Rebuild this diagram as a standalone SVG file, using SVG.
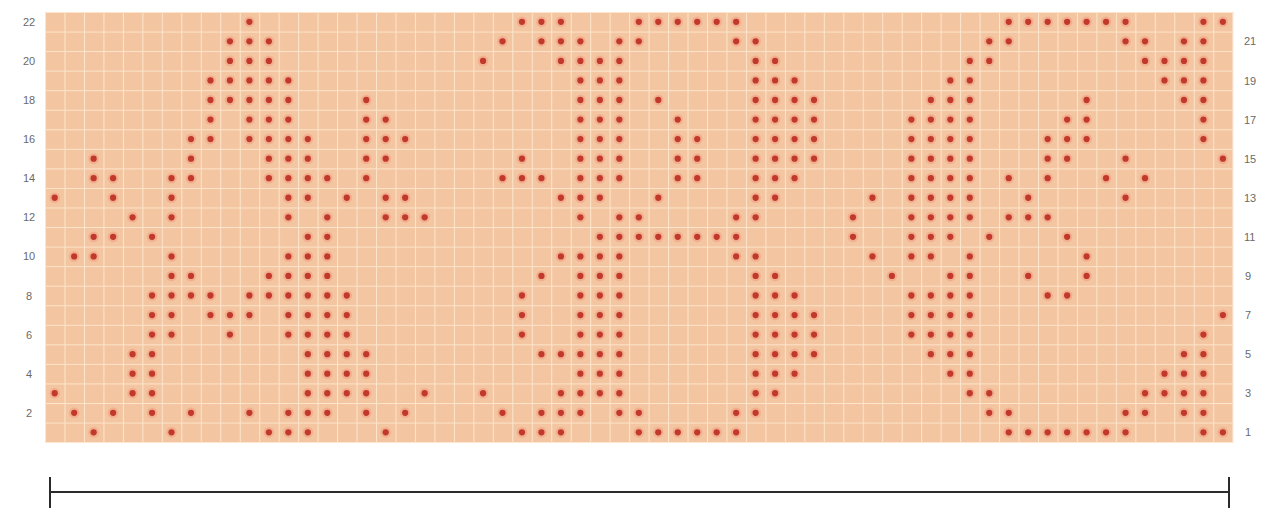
<svg xmlns="http://www.w3.org/2000/svg" xmlns:xlink="http://www.w3.org/1999/xlink" width="1266" height="511" viewBox="0 0 1266 511">
<style>
.lbl{font-family:"Liberation Sans",Arial,sans-serif;font-size:11px;fill:#6a6a6a}
.l{text-anchor:middle}
.r{text-anchor:start}
.bar{stroke:#2b2b2b;stroke-width:2;fill:none}
</style>
<defs>
<pattern id="grid" x="45" y="12" width="19.47" height="19.55" patternUnits="userSpaceOnUse">
<path d="M0 0.5H19.47M0.5 0V19.55" stroke="#fde5cc" stroke-width="1.1" fill="none"/>
</pattern>
<g id="d"><circle r="0.27" fill="#f09a82" opacity="0.55"/><circle r="0.16" fill="#c0392a"/></g>
</defs>
<rect width="1266" height="511" fill="#ffffff"/>
<g id="chart">
<rect x="45" y="12" width="1187.7" height="430.1" fill="#f3c5a1"/>
<rect x="45" y="12" width="1188.7" height="431.1" fill="url(#grid)"/>
</g>
<g id="dots" transform="translate(54.7 21.8) scale(19.47 19.55)">
<g id="row22"><use href="#d" x="10" y="0"/><use href="#d" x="24" y="0"/><use href="#d" x="25" y="0"/><use href="#d" x="26" y="0"/><use href="#d" x="30" y="0"/><use href="#d" x="31" y="0"/><use href="#d" x="32" y="0"/><use href="#d" x="33" y="0"/><use href="#d" x="34" y="0"/><use href="#d" x="35" y="0"/><use href="#d" x="49" y="0"/><use href="#d" x="50" y="0"/><use href="#d" x="51" y="0"/><use href="#d" x="52" y="0"/><use href="#d" x="53" y="0"/><use href="#d" x="54" y="0"/><use href="#d" x="55" y="0"/><use href="#d" x="59" y="0"/><use href="#d" x="60" y="0"/></g>
<g id="row21"><use href="#d" x="9" y="1"/><use href="#d" x="10" y="1"/><use href="#d" x="11" y="1"/><use href="#d" x="23" y="1"/><use href="#d" x="25" y="1"/><use href="#d" x="26" y="1"/><use href="#d" x="27" y="1"/><use href="#d" x="29" y="1"/><use href="#d" x="30" y="1"/><use href="#d" x="35" y="1"/><use href="#d" x="36" y="1"/><use href="#d" x="48" y="1"/><use href="#d" x="49" y="1"/><use href="#d" x="55" y="1"/><use href="#d" x="56" y="1"/><use href="#d" x="58" y="1"/><use href="#d" x="59" y="1"/></g>
<g id="row20"><use href="#d" x="9" y="2"/><use href="#d" x="10" y="2"/><use href="#d" x="11" y="2"/><use href="#d" x="22" y="2"/><use href="#d" x="26" y="2"/><use href="#d" x="27" y="2"/><use href="#d" x="28" y="2"/><use href="#d" x="29" y="2"/><use href="#d" x="36" y="2"/><use href="#d" x="37" y="2"/><use href="#d" x="47" y="2"/><use href="#d" x="48" y="2"/><use href="#d" x="56" y="2"/><use href="#d" x="57" y="2"/><use href="#d" x="58" y="2"/><use href="#d" x="59" y="2"/></g>
<g id="row19"><use href="#d" x="8" y="3"/><use href="#d" x="9" y="3"/><use href="#d" x="10" y="3"/><use href="#d" x="11" y="3"/><use href="#d" x="12" y="3"/><use href="#d" x="27" y="3"/><use href="#d" x="28" y="3"/><use href="#d" x="29" y="3"/><use href="#d" x="36" y="3"/><use href="#d" x="37" y="3"/><use href="#d" x="38" y="3"/><use href="#d" x="46" y="3"/><use href="#d" x="47" y="3"/><use href="#d" x="57" y="3"/><use href="#d" x="58" y="3"/><use href="#d" x="59" y="3"/></g>
<g id="row18"><use href="#d" x="8" y="4"/><use href="#d" x="9" y="4"/><use href="#d" x="10" y="4"/><use href="#d" x="11" y="4"/><use href="#d" x="12" y="4"/><use href="#d" x="16" y="4"/><use href="#d" x="27" y="4"/><use href="#d" x="28" y="4"/><use href="#d" x="29" y="4"/><use href="#d" x="31" y="4"/><use href="#d" x="36" y="4"/><use href="#d" x="37" y="4"/><use href="#d" x="38" y="4"/><use href="#d" x="39" y="4"/><use href="#d" x="45" y="4"/><use href="#d" x="46" y="4"/><use href="#d" x="47" y="4"/><use href="#d" x="53" y="4"/><use href="#d" x="58" y="4"/><use href="#d" x="59" y="4"/></g>
<g id="row17"><use href="#d" x="8" y="5"/><use href="#d" x="10" y="5"/><use href="#d" x="11" y="5"/><use href="#d" x="12" y="5"/><use href="#d" x="16" y="5"/><use href="#d" x="17" y="5"/><use href="#d" x="27" y="5"/><use href="#d" x="28" y="5"/><use href="#d" x="29" y="5"/><use href="#d" x="32" y="5"/><use href="#d" x="36" y="5"/><use href="#d" x="37" y="5"/><use href="#d" x="38" y="5"/><use href="#d" x="39" y="5"/><use href="#d" x="44" y="5"/><use href="#d" x="45" y="5"/><use href="#d" x="46" y="5"/><use href="#d" x="47" y="5"/><use href="#d" x="52" y="5"/><use href="#d" x="53" y="5"/><use href="#d" x="59" y="5"/></g>
<g id="row16"><use href="#d" x="7" y="6"/><use href="#d" x="8" y="6"/><use href="#d" x="10" y="6"/><use href="#d" x="11" y="6"/><use href="#d" x="12" y="6"/><use href="#d" x="13" y="6"/><use href="#d" x="16" y="6"/><use href="#d" x="17" y="6"/><use href="#d" x="18" y="6"/><use href="#d" x="27" y="6"/><use href="#d" x="28" y="6"/><use href="#d" x="29" y="6"/><use href="#d" x="32" y="6"/><use href="#d" x="33" y="6"/><use href="#d" x="36" y="6"/><use href="#d" x="37" y="6"/><use href="#d" x="38" y="6"/><use href="#d" x="39" y="6"/><use href="#d" x="44" y="6"/><use href="#d" x="45" y="6"/><use href="#d" x="46" y="6"/><use href="#d" x="47" y="6"/><use href="#d" x="51" y="6"/><use href="#d" x="52" y="6"/><use href="#d" x="53" y="6"/><use href="#d" x="59" y="6"/></g>
<g id="row15"><use href="#d" x="2" y="7"/><use href="#d" x="7" y="7"/><use href="#d" x="11" y="7"/><use href="#d" x="12" y="7"/><use href="#d" x="13" y="7"/><use href="#d" x="16" y="7"/><use href="#d" x="17" y="7"/><use href="#d" x="24" y="7"/><use href="#d" x="27" y="7"/><use href="#d" x="28" y="7"/><use href="#d" x="29" y="7"/><use href="#d" x="32" y="7"/><use href="#d" x="33" y="7"/><use href="#d" x="36" y="7"/><use href="#d" x="37" y="7"/><use href="#d" x="38" y="7"/><use href="#d" x="39" y="7"/><use href="#d" x="44" y="7"/><use href="#d" x="45" y="7"/><use href="#d" x="46" y="7"/><use href="#d" x="47" y="7"/><use href="#d" x="51" y="7"/><use href="#d" x="52" y="7"/><use href="#d" x="55" y="7"/><use href="#d" x="60" y="7"/></g>
<g id="row14"><use href="#d" x="2" y="8"/><use href="#d" x="3" y="8"/><use href="#d" x="6" y="8"/><use href="#d" x="7" y="8"/><use href="#d" x="11" y="8"/><use href="#d" x="12" y="8"/><use href="#d" x="13" y="8"/><use href="#d" x="14" y="8"/><use href="#d" x="16" y="8"/><use href="#d" x="23" y="8"/><use href="#d" x="24" y="8"/><use href="#d" x="25" y="8"/><use href="#d" x="27" y="8"/><use href="#d" x="28" y="8"/><use href="#d" x="29" y="8"/><use href="#d" x="32" y="8"/><use href="#d" x="33" y="8"/><use href="#d" x="36" y="8"/><use href="#d" x="37" y="8"/><use href="#d" x="38" y="8"/><use href="#d" x="44" y="8"/><use href="#d" x="45" y="8"/><use href="#d" x="46" y="8"/><use href="#d" x="47" y="8"/><use href="#d" x="49" y="8"/><use href="#d" x="51" y="8"/><use href="#d" x="54" y="8"/><use href="#d" x="56" y="8"/></g>
<g id="row13"><use href="#d" x="0" y="9"/><use href="#d" x="3" y="9"/><use href="#d" x="6" y="9"/><use href="#d" x="12" y="9"/><use href="#d" x="13" y="9"/><use href="#d" x="15" y="9"/><use href="#d" x="17" y="9"/><use href="#d" x="18" y="9"/><use href="#d" x="26" y="9"/><use href="#d" x="27" y="9"/><use href="#d" x="28" y="9"/><use href="#d" x="31" y="9"/><use href="#d" x="36" y="9"/><use href="#d" x="37" y="9"/><use href="#d" x="42" y="9"/><use href="#d" x="44" y="9"/><use href="#d" x="45" y="9"/><use href="#d" x="46" y="9"/><use href="#d" x="47" y="9"/><use href="#d" x="50" y="9"/><use href="#d" x="55" y="9"/></g>
<g id="row12"><use href="#d" x="4" y="10"/><use href="#d" x="6" y="10"/><use href="#d" x="12" y="10"/><use href="#d" x="14" y="10"/><use href="#d" x="17" y="10"/><use href="#d" x="18" y="10"/><use href="#d" x="19" y="10"/><use href="#d" x="27" y="10"/><use href="#d" x="29" y="10"/><use href="#d" x="30" y="10"/><use href="#d" x="35" y="10"/><use href="#d" x="36" y="10"/><use href="#d" x="41" y="10"/><use href="#d" x="44" y="10"/><use href="#d" x="45" y="10"/><use href="#d" x="46" y="10"/><use href="#d" x="47" y="10"/><use href="#d" x="49" y="10"/><use href="#d" x="50" y="10"/><use href="#d" x="51" y="10"/></g>
<g id="row11"><use href="#d" x="2" y="11"/><use href="#d" x="3" y="11"/><use href="#d" x="5" y="11"/><use href="#d" x="13" y="11"/><use href="#d" x="14" y="11"/><use href="#d" x="28" y="11"/><use href="#d" x="29" y="11"/><use href="#d" x="30" y="11"/><use href="#d" x="31" y="11"/><use href="#d" x="32" y="11"/><use href="#d" x="33" y="11"/><use href="#d" x="34" y="11"/><use href="#d" x="35" y="11"/><use href="#d" x="41" y="11"/><use href="#d" x="44" y="11"/><use href="#d" x="45" y="11"/><use href="#d" x="46" y="11"/><use href="#d" x="48" y="11"/><use href="#d" x="52" y="11"/></g>
<g id="row10"><use href="#d" x="1" y="12"/><use href="#d" x="2" y="12"/><use href="#d" x="6" y="12"/><use href="#d" x="12" y="12"/><use href="#d" x="13" y="12"/><use href="#d" x="14" y="12"/><use href="#d" x="26" y="12"/><use href="#d" x="27" y="12"/><use href="#d" x="28" y="12"/><use href="#d" x="29" y="12"/><use href="#d" x="35" y="12"/><use href="#d" x="36" y="12"/><use href="#d" x="42" y="12"/><use href="#d" x="44" y="12"/><use href="#d" x="45" y="12"/><use href="#d" x="47" y="12"/><use href="#d" x="53" y="12"/></g>
<g id="row9"><use href="#d" x="6" y="13"/><use href="#d" x="7" y="13"/><use href="#d" x="11" y="13"/><use href="#d" x="12" y="13"/><use href="#d" x="13" y="13"/><use href="#d" x="14" y="13"/><use href="#d" x="25" y="13"/><use href="#d" x="27" y="13"/><use href="#d" x="28" y="13"/><use href="#d" x="29" y="13"/><use href="#d" x="36" y="13"/><use href="#d" x="37" y="13"/><use href="#d" x="43" y="13"/><use href="#d" x="46" y="13"/><use href="#d" x="47" y="13"/><use href="#d" x="50" y="13"/><use href="#d" x="53" y="13"/></g>
<g id="row8"><use href="#d" x="5" y="14"/><use href="#d" x="6" y="14"/><use href="#d" x="7" y="14"/><use href="#d" x="8" y="14"/><use href="#d" x="10" y="14"/><use href="#d" x="11" y="14"/><use href="#d" x="12" y="14"/><use href="#d" x="13" y="14"/><use href="#d" x="14" y="14"/><use href="#d" x="15" y="14"/><use href="#d" x="24" y="14"/><use href="#d" x="27" y="14"/><use href="#d" x="28" y="14"/><use href="#d" x="29" y="14"/><use href="#d" x="36" y="14"/><use href="#d" x="37" y="14"/><use href="#d" x="38" y="14"/><use href="#d" x="44" y="14"/><use href="#d" x="45" y="14"/><use href="#d" x="46" y="14"/><use href="#d" x="47" y="14"/><use href="#d" x="51" y="14"/><use href="#d" x="52" y="14"/></g>
<g id="row7"><use href="#d" x="5" y="15"/><use href="#d" x="6" y="15"/><use href="#d" x="8" y="15"/><use href="#d" x="9" y="15"/><use href="#d" x="10" y="15"/><use href="#d" x="12" y="15"/><use href="#d" x="13" y="15"/><use href="#d" x="14" y="15"/><use href="#d" x="15" y="15"/><use href="#d" x="24" y="15"/><use href="#d" x="27" y="15"/><use href="#d" x="28" y="15"/><use href="#d" x="29" y="15"/><use href="#d" x="36" y="15"/><use href="#d" x="37" y="15"/><use href="#d" x="38" y="15"/><use href="#d" x="39" y="15"/><use href="#d" x="44" y="15"/><use href="#d" x="45" y="15"/><use href="#d" x="46" y="15"/><use href="#d" x="47" y="15"/><use href="#d" x="60" y="15"/></g>
<g id="row6"><use href="#d" x="5" y="16"/><use href="#d" x="6" y="16"/><use href="#d" x="9" y="16"/><use href="#d" x="12" y="16"/><use href="#d" x="13" y="16"/><use href="#d" x="14" y="16"/><use href="#d" x="15" y="16"/><use href="#d" x="24" y="16"/><use href="#d" x="27" y="16"/><use href="#d" x="28" y="16"/><use href="#d" x="29" y="16"/><use href="#d" x="36" y="16"/><use href="#d" x="37" y="16"/><use href="#d" x="38" y="16"/><use href="#d" x="39" y="16"/><use href="#d" x="44" y="16"/><use href="#d" x="45" y="16"/><use href="#d" x="46" y="16"/><use href="#d" x="47" y="16"/><use href="#d" x="59" y="16"/></g>
<g id="row5"><use href="#d" x="4" y="17"/><use href="#d" x="5" y="17"/><use href="#d" x="13" y="17"/><use href="#d" x="14" y="17"/><use href="#d" x="15" y="17"/><use href="#d" x="16" y="17"/><use href="#d" x="25" y="17"/><use href="#d" x="26" y="17"/><use href="#d" x="27" y="17"/><use href="#d" x="28" y="17"/><use href="#d" x="29" y="17"/><use href="#d" x="36" y="17"/><use href="#d" x="37" y="17"/><use href="#d" x="38" y="17"/><use href="#d" x="39" y="17"/><use href="#d" x="45" y="17"/><use href="#d" x="46" y="17"/><use href="#d" x="47" y="17"/><use href="#d" x="58" y="17"/><use href="#d" x="59" y="17"/></g>
<g id="row4"><use href="#d" x="4" y="18"/><use href="#d" x="5" y="18"/><use href="#d" x="13" y="18"/><use href="#d" x="14" y="18"/><use href="#d" x="15" y="18"/><use href="#d" x="16" y="18"/><use href="#d" x="27" y="18"/><use href="#d" x="28" y="18"/><use href="#d" x="29" y="18"/><use href="#d" x="36" y="18"/><use href="#d" x="37" y="18"/><use href="#d" x="38" y="18"/><use href="#d" x="46" y="18"/><use href="#d" x="47" y="18"/><use href="#d" x="57" y="18"/><use href="#d" x="58" y="18"/><use href="#d" x="59" y="18"/></g>
<g id="row3"><use href="#d" x="0" y="19"/><use href="#d" x="4" y="19"/><use href="#d" x="5" y="19"/><use href="#d" x="13" y="19"/><use href="#d" x="14" y="19"/><use href="#d" x="15" y="19"/><use href="#d" x="16" y="19"/><use href="#d" x="19" y="19"/><use href="#d" x="22" y="19"/><use href="#d" x="26" y="19"/><use href="#d" x="27" y="19"/><use href="#d" x="28" y="19"/><use href="#d" x="29" y="19"/><use href="#d" x="36" y="19"/><use href="#d" x="37" y="19"/><use href="#d" x="47" y="19"/><use href="#d" x="48" y="19"/><use href="#d" x="56" y="19"/><use href="#d" x="57" y="19"/><use href="#d" x="58" y="19"/><use href="#d" x="59" y="19"/></g>
<g id="row2"><use href="#d" x="1" y="20"/><use href="#d" x="3" y="20"/><use href="#d" x="5" y="20"/><use href="#d" x="7" y="20"/><use href="#d" x="10" y="20"/><use href="#d" x="12" y="20"/><use href="#d" x="13" y="20"/><use href="#d" x="14" y="20"/><use href="#d" x="16" y="20"/><use href="#d" x="18" y="20"/><use href="#d" x="23" y="20"/><use href="#d" x="25" y="20"/><use href="#d" x="26" y="20"/><use href="#d" x="27" y="20"/><use href="#d" x="29" y="20"/><use href="#d" x="30" y="20"/><use href="#d" x="35" y="20"/><use href="#d" x="36" y="20"/><use href="#d" x="48" y="20"/><use href="#d" x="49" y="20"/><use href="#d" x="55" y="20"/><use href="#d" x="56" y="20"/><use href="#d" x="58" y="20"/><use href="#d" x="59" y="20"/></g>
<g id="row1"><use href="#d" x="2" y="21"/><use href="#d" x="6" y="21"/><use href="#d" x="11" y="21"/><use href="#d" x="12" y="21"/><use href="#d" x="13" y="21"/><use href="#d" x="17" y="21"/><use href="#d" x="24" y="21"/><use href="#d" x="25" y="21"/><use href="#d" x="26" y="21"/><use href="#d" x="30" y="21"/><use href="#d" x="31" y="21"/><use href="#d" x="32" y="21"/><use href="#d" x="33" y="21"/><use href="#d" x="34" y="21"/><use href="#d" x="35" y="21"/><use href="#d" x="49" y="21"/><use href="#d" x="50" y="21"/><use href="#d" x="51" y="21"/><use href="#d" x="52" y="21"/><use href="#d" x="53" y="21"/><use href="#d" x="54" y="21"/><use href="#d" x="55" y="21"/><use href="#d" x="59" y="21"/><use href="#d" x="60" y="21"/></g>
</g>
<g id="left-labels" class="lbl l">
<text x="29" y="25.8">22</text>
<text x="29" y="64.9">20</text>
<text x="29" y="104">18</text>
<text x="29" y="143.1">16</text>
<text x="29" y="182.2">14</text>
<text x="29" y="221.3">12</text>
<text x="29" y="260.4">10</text>
<text x="29" y="299.5">8</text>
<text x="29" y="338.6">6</text>
<text x="29" y="377.7">4</text>
<text x="29" y="416.8">2</text>
</g>
<g id="right-labels" class="lbl r">
<text x="1244" y="45.4">21</text>
<text x="1244" y="84.5">19</text>
<text x="1244" y="123.6">17</text>
<text x="1244" y="162.7">15</text>
<text x="1244" y="201.8">13</text>
<text x="1244" y="240.9">11</text>
<text x="1245" y="280">9</text>
<text x="1245" y="319.1">7</text>
<text x="1245" y="358.2">5</text>
<text x="1245" y="397.3">3</text>
<text x="1245" y="436.4">1</text>
</g>
<g id="width-bar" class="bar">
<path d="M50 492H1229M50 477V508M1229 477V508"/>
</g>
</svg>
